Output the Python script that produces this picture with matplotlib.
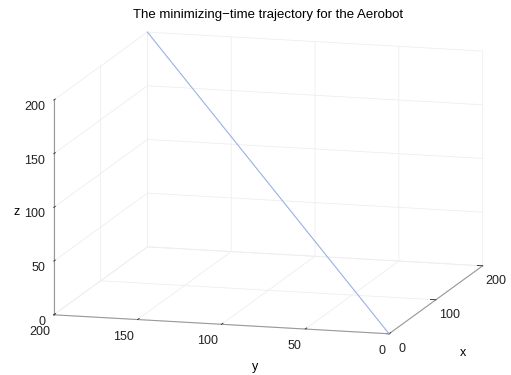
import matplotlib
matplotlib.use("Agg")
import matplotlib.pyplot as plt
import numpy as np

plt.rcParams['font.family'] = ['Liberation Sans', 'DejaVu Sans']

# trajectory end points
traj_x = [0, 200]
traj_y = [0, 200]
traj_z = [0, 200]

x_ticks = [0, 100, 200]
y_ticks = [0, 50, 100, 150, 200]
z_ticks = [0, 50, 100, 150, 200]

fig = plt.figure(figsize=(5.11, 3.75), dpi=100)
ax = fig.add_axes([0.016, 0.05, 1.0, 0.9], projection='3d', proj_type='ortho')
ax.view_init(elev=11.7, azim=195.6)
ax.set_box_aspect((1.0, 1.0, 0.63), zoom=1.55)

ax.plot(traj_x, traj_y, traj_z, color='#9bb0e6', linewidth=0.8)

ax.set_xlim(0, 200)
ax.set_ylim(0, 200)
ax.set_zlim(0, 200)
ax.set_xticks(x_ticks)
ax.set_yticks(y_ticks)
ax.set_zticks(z_ticks)
ax.tick_params(labelsize=9, colors='#222222')
ax.tick_params(axis='z', pad=-5.5)
ax.tick_params(axis='y', pad=-3)
ax.tick_params(axis='x', pad=-3)
plt.setp(ax.get_zticklabels(), ha='right')
plt.setp(ax.get_yticklabels(), ha='right')

for axis in (ax.xaxis, ax.yaxis, ax.zaxis):
    axis.set_pane_color((1, 1, 1, 0))
    axis.line.set_color('#999999')
    axis.line.set_linewidth(0.8)
    axis._axinfo['grid']['color'] = '#eeeeee'
    axis._axinfo['grid']['linewidth'] = 0.6
    axis._axinfo['tick']['inward_factor'] = 0.0
    axis._axinfo['tick']['outward_factor'] = 0.2
    axis._axinfo['tick']['color'] = '#999999'
    axis._axinfo['tick']['linewidth'] = {True: 0.6, False: 0.5}

ax.set_zlabel('z', fontsize=9, labelpad=-10)
# MATLAB puts the x and y labels off the axis middles
fig.text(255 / 511, 1 - 367 / 375, 'y', ha='center', va='center', fontsize=9)
fig.text(463 / 511, 1 - 353 / 375, 'x', ha='center', va='center', fontsize=9)

fig.text(268 / 511, 0.96, 'The minimizing\u2212time trajectory for the Aerobot',
         ha='center', va='center', fontsize=9.5)

fig.savefig('out.png', dpi=100, facecolor='white')
